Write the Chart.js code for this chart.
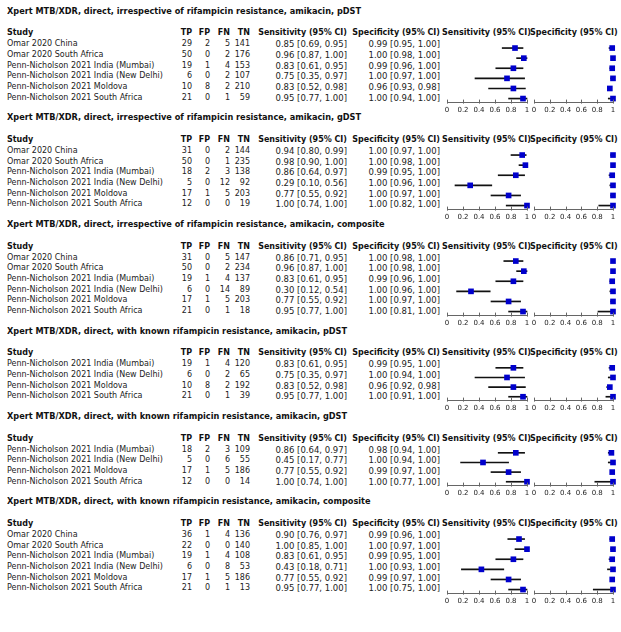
<!DOCTYPE html>
<html>
<head>
<meta charset="utf-8">
<script src="https://cdn.jsdelivr.net/npm/chart.js@4.4.0/dist/chart.umd.min.js"></script>
<style>
html, body { margin: 0; padding: 0; background: #fff; }
#page { position: relative; width: 621px; height: 632px; overflow: hidden;
        font-family: "DejaVu Sans", sans-serif; font-size: 8px; color: #222; }
.t { position: absolute; white-space: nowrap; line-height: 10px; }
.b { font-weight: bold; color: #111; }
.title { transform-origin: 0 50%; }
.num { font-size: 8.5px; }
.plot { position: absolute; }
</style>
</head>
<body>
<div id="page"></div>
<script>
// Panel titles
const panelTitles = [
    'Xpert MTB/XDR, direct, irrespective of rifampicin resistance, amikacin, pDST',
    'Xpert MTB/XDR, direct, irrespective of rifampicin resistance, amikacin, gDST',
    'Xpert MTB/XDR, direct, irrespective of rifampicin resistance, amikacin, composite',
    'Xpert MTB/XDR, direct, with known rifampicin resistance, amikacin, pDST',
    'Xpert MTB/XDR, direct, with known rifampicin resistance, amikacin, gDST',
    'Xpert MTB/XDR, direct, with known rifampicin resistance, amikacin, composite'
];

const allSix = ['Omar 2020 China', 'Omar 2020 South Africa', 'Penn-Nicholson 2021 India (Mumbai)',
    'Penn-Nicholson 2021 India (New Delhi)', 'Penn-Nicholson 2021 Moldova', 'Penn-Nicholson 2021 South Africa'];
const pnFour = allSix.slice(2);
const studies = [allSix, allSix, allSix, pnFour, pnFour, allSix];

// 2x2 counts
const tp = [[29, 50, 19, 6, 10, 21], [31, 50, 18, 5, 17, 12], [31, 50, 19, 6, 17, 21],
            [19, 6, 10, 21], [18, 5, 17, 12], [36, 22, 19, 6, 17, 21]];
const fp = [[2, 0, 1, 0, 8, 0], [0, 0, 2, 0, 1, 0], [0, 0, 1, 0, 1, 0],
            [1, 0, 8, 0], [2, 0, 1, 0], [1, 0, 1, 0, 1, 0]];
const fn = [[5, 2, 4, 2, 2, 1], [2, 1, 3, 12, 5, 0], [5, 2, 4, 14, 5, 1],
            [4, 2, 2, 1], [3, 6, 5, 0], [4, 0, 4, 8, 5, 1]];
const tn = [[141, 176, 153, 107, 210, 59], [144, 235, 138, 92, 203, 19], [147, 234, 137, 89, 203, 18],
            [120, 65, 192, 39], [109, 55, 186, 14], [136, 140, 108, 53, 186, 13]];

// Sensitivity estimates and 95% CI
const sens = [[0.85, 0.96, 0.83, 0.75, 0.83, 0.95], [0.94, 0.98, 0.86, 0.29, 0.77, 1.00], [0.86, 0.96, 0.83, 0.30, 0.77, 0.95],
              [0.83, 0.75, 0.83, 0.95], [0.86, 0.45, 0.77, 1.00], [0.90, 1.00, 0.83, 0.43, 0.77, 0.95]];
const sensLo = [[0.69, 0.87, 0.61, 0.35, 0.52, 0.77], [0.80, 0.90, 0.64, 0.10, 0.55, 0.74], [0.71, 0.87, 0.61, 0.12, 0.55, 0.77],
                [0.61, 0.35, 0.52, 0.77], [0.64, 0.17, 0.55, 0.74], [0.76, 0.85, 0.61, 0.18, 0.55, 0.77]];
const sensHi = [[0.95, 1.00, 0.95, 0.97, 0.98, 1.00], [0.99, 1.00, 0.97, 0.56, 0.92, 1.00], [0.95, 1.00, 0.95, 0.54, 0.92, 1.00],
                [0.95, 0.97, 0.98, 1.00], [0.97, 0.77, 0.92, 1.00], [0.97, 1.00, 0.95, 0.71, 0.92, 1.00]];

// Specificity estimates and 95% CI
const spec = [[0.99, 1.00, 0.99, 1.00, 0.96, 1.00], [1.00, 1.00, 0.99, 1.00, 1.00, 1.00], [1.00, 1.00, 0.99, 1.00, 1.00, 1.00],
              [0.99, 1.00, 0.96, 1.00], [0.98, 1.00, 0.99, 1.00], [0.99, 1.00, 0.99, 1.00, 0.99, 1.00]];
const specLo = [[0.95, 0.98, 0.96, 0.97, 0.93, 0.94], [0.97, 0.98, 0.95, 0.96, 0.97, 0.82], [0.98, 0.98, 0.96, 0.96, 0.97, 0.81],
                [0.95, 0.94, 0.92, 0.91], [0.94, 0.94, 0.97, 0.77], [0.96, 0.97, 0.95, 0.93, 0.97, 0.75]];
const specHi = [[1.00, 1.00, 1.00, 1.00, 0.98, 1.00], [1.00, 1.00, 1.00, 1.00, 1.00, 1.00], [1.00, 1.00, 1.00, 1.00, 1.00, 1.00],
                [1.00, 1.00, 0.98, 1.00], [1.00, 1.00, 1.00, 1.00], [1.00, 1.00, 1.00, 1.00, 1.00, 1.00]];

const tickLabels = ['0', '0.2', '0.4', '0.6', '0.8', '1'];

// Layout
const PAGE_W = 621;
const ROW_H = 10.7;
const FIRST_TITLE_Y = 11.7;
const PANEL_EXTRA = 42.5;
const AXIS_H = 14.4;
const TITLE_FIT = 354;   // first title spans x 7..361 in the reference
const COLS = { study: 7, tp: 192, fp: 210, fn: 230, tn: 250, sens: 347, spec: 440, fsens: 442, fspec: 530 };
const SENS_PLOT = { left: 439, width: 95 };
const SPEC_PLOT = { left: 526, width: 94 };

const page = document.getElementById('page');

function addText(txt, x, y, align, cls) {
    const el = document.createElement('div');
    el.className = 't' + (cls ? ' ' + cls : '');
    el.textContent = txt;
    el.style.top = (y - 5) + 'px';
    if (align === 'right') {
        el.style.right = (PAGE_W - x) + 'px';
    } else {
        el.style.left = x + 'px';
    }
    page.appendChild(el);
    return el;
}

const ci = (v, lo, hi) => `${v.toFixed(2)} [${lo.toFixed(2)}, ${hi.toFixed(2)}]`;

// Upward tick marks on the x axis
const tickMarks = {
    id: 'tickMarks',
    afterDraw(chart) {
        const s = chart.scales.x;
        const c = chart.ctx;
        c.save();
        c.strokeStyle = '#666';
        c.lineWidth = 1;
        s.ticks.forEach(t => {
            const px = Math.round(s.getPixelForValue(t.value)) + 0.5;
            c.beginPath();
            c.moveTo(px, s.top - 3);
            c.lineTo(px, s.top + 1);
            c.stroke();
        });
        c.restore();
    }
};

function makePlot(box, top, height, n, est, lo, hi) {
    const wrap = document.createElement('div');
    wrap.className = 'plot';
    wrap.style.left = box.left + 'px';
    wrap.style.top = top + 'px';
    wrap.style.width = box.width + 'px';
    wrap.style.height = height + 'px';
    const cv = document.createElement('canvas');
    wrap.appendChild(cv);
    page.appendChild(wrap);

    new Chart(cv, {
        type: 'bar',
        data: {
            datasets: [{
                type: 'scatter',
                data: est.map((v, i) => ({ x: v, y: i })),
                pointStyle: 'rect',
                pointRadius: 4,
                backgroundColor: '#0000cc',
                borderWidth: 0,
                clip: false,
                order: 0
            }, {
                type: 'bar',
                data: lo.map((v, i) => ({ x: [v, hi[i]], y: i })),
                backgroundColor: '#111',
                barThickness: 1,
                borderWidth: 0,
                clip: false,
                order: 1
            }]
        },
        options: {
            indexAxis: 'y',
            responsive: true,
            maintainAspectRatio: false,
            animation: false,
            events: [],
            layout: { padding: { left: 8, right: 7, top: 0, bottom: 0 } },
            plugins: { legend: { display: false }, tooltip: { enabled: false } },
            scales: {
                x: {
                    type: 'linear',
                    min: 0,
                    max: 1,
                    ticks: {
                        stepSize: 0.2,
                        autoSkip: false,
                        maxRotation: 0,
                        padding: 3,
                        color: '#222',
                        font: { family: 'DejaVu Sans', size: 7 },
                        callback: (value, index) => tickLabels[index]
                    },
                    grid: { drawOnChartArea: false, drawTicks: false },
                    border: { display: true, color: '#666', width: 1 }
                },
                y: { type: 'linear', display: false, reverse: true, offset: false,
                     min: -0.5, max: n - 0.6 }
            }
        },
        plugins: [tickMarks]
    });
}

let titleY = FIRST_TITLE_Y;
let titleScale = null;
panelTitles.forEach((title, p) => {
    const n = studies[p].length;
    const tEl = addText(title, COLS.study, titleY, 'left', 'b title');
    // stretch titles a little so the first one spans the same width as in the reference
    if (titleScale === null) titleScale = TITLE_FIT / tEl.getBoundingClientRect().width;
    tEl.style.transform = `scaleX(${titleScale})`;

    const headY = titleY + 21.5;
    addText('Study', COLS.study, headY, 'left', 'b');
    addText('TP', COLS.tp, headY, 'right', 'b');
    addText('FP', COLS.fp, headY, 'right', 'b');
    addText('FN', COLS.fn, headY, 'right', 'b');
    addText('TN', COLS.tn, headY, 'right', 'b');
    addText('Sensitivity (95% CI)', COLS.sens, headY, 'right', 'b');
    addText('Specificity (95% CI)', COLS.spec, headY, 'right', 'b');
    addText('Sensitivity (95% CI)', COLS.fsens, headY, 'left', 'b');
    addText('Specificity (95% CI)', COLS.fspec, headY, 'left', 'b');

    studies[p].forEach((name, i) => {
        const y = titleY + 32.5 + i * ROW_H;
        addText(name, COLS.study, y, 'left');
        addText(String(tp[p][i]), COLS.tp, y, 'right');
        addText(String(fp[p][i]), COLS.fp, y, 'right');
        addText(String(fn[p][i]), COLS.fn, y, 'right');
        addText(String(tn[p][i]), COLS.tn, y, 'right');
        addText(ci(sens[p][i], sensLo[p][i], sensHi[p][i]), COLS.sens, y, 'right', 'num');
        addText(ci(spec[p][i], specLo[p][i], specHi[p][i]), COLS.spec, y, 'right', 'num');
    });

    const plotTop = Math.round(titleY + 32.5 - ROW_H / 2);
    const plotH = Math.round((n - 0.1) * ROW_H + AXIS_H);
    makePlot(SENS_PLOT, plotTop, plotH, n, sens[p], sensLo[p], sensHi[p]);
    makePlot(SPEC_PLOT, plotTop, plotH, n, spec[p], specLo[p], specHi[p]);

    titleY += PANEL_EXTRA + n * ROW_H;
});
</script>
</body>
</html>
